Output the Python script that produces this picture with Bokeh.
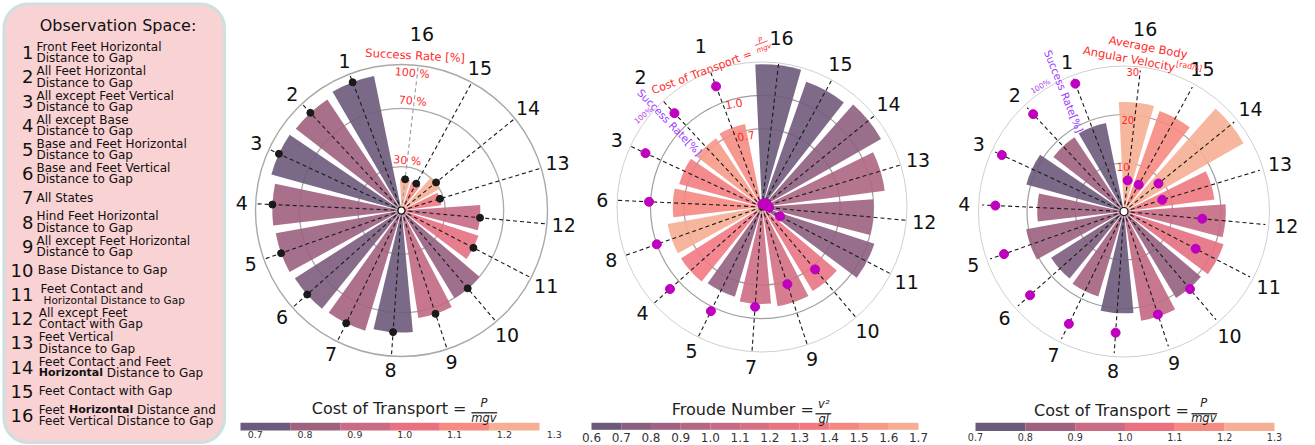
import numpy as np
from bokeh.plotting import figure
from bokeh.models import Range1d, LinearColorMapper, ColumnDataSource
from bokeh.core.properties import value
from bokeh.embed import file_html
from bokeh.resources import INLINE

# ---------------- data ----------------
obs_ids = list(range(1, 17))
obs_names = [
    "Front Feet Horizontal\nDistance to Gap",
    "All Feet Horizontal\nDistance to Gap",
    "All except Feet Vertical\nDistance to Gap",
    "All except Base\nDistance to Gap",
    "Base and Feet Horizontal\nDistance to Gap",
    "Base and Feet Vertical\nDistance to Gap",
    "All States",
    "Hind Feet Horizontal\nDistance to Gap",
    "All except Feet Horizontal\nDistance to Gap",
    "Base Distance to Gap",
    "Feet Contact and\nHorizontal Distance to Gap",
    "All except Feet\nContact with Gap",
    "Feet Vertical\nDistance to Gap",
    "Feet Contact and Feet\n**Horizontal** Distance to Gap",
    "Feet Contact with Gap",
    "Feet **Horizontal** Distance and\nFeet Vertical Distance to Gap",
]
# panels 1 and 3 (indexed by observation 1..16)
success_rate = [94, 91.5, 92.5, 88.5, 87.5, 86.5, 86, 83.5, 74.5, 70, 55.5, 54, 27.5, 30.5, 21, 21.5]
cost_of_transport = [0.75, 0.85, 0.75, 0.85, 0.84, 0.78, 0.86, 0.74, 0.93, 0.83, 1.03, 0.94, 1.08, 1.25, 1.15, 1.25]
ang_velocity = [18.6, 18.4, 20.9, 17.9, 20.5, 17.8, 18.3, 21.0, 22.8, 20.8, 21.6, 21.0, 18.8, 28.4, 22.0, 22.6]

# panel 2 (clockwise from the top)
order2 = [16, 15, 14, 13, 12, 11, 10, 9, 7, 5, 4, 8, 6, 3, 2, 1]
cot2 = [1.28, 1.19, 1.23, 1.11, 1.00, 1.06, 0.88, 0.90, 0.87, 0.84, 0.86, 0.86, 0.80, 0.77, 0.74, 0.76]
froude2 = [0.65, 0.67, 0.77, 0.92, 0.84, 0.76, 1.25, 1.12, 1.08, 0.80, 1.35, 1.65, 1.45, 1.38, 1.55, 1.48]
sr2 = [2, 3, 4, 3, 5, 14, 56.5, 56, 69, 80, 85, 77, 78, 88.5, 88.5, 89]

cot_ticks = [0.7, 0.8, 0.9, 1.0, 1.1, 1.2, 1.3]
froude_ticks = [0.6, 0.7, 0.8, 0.9, 1.0, 1.1, 1.2, 1.3, 1.4, 1.5, 1.6, 1.7]
cot_colors = ["#6b5a7b", "#a0617f", "#c96b84", "#ea7180", "#f58b81", "#f6ae94"]
froude_colors = ["#6b5a7b", "#8a5e7e", "#a06280", "#b46783", "#c66b84", "#d87084",
                 "#e87483", "#f27982", "#f58781", "#f69a88", "#f7ad93"]

sr_ticks1 = [30, 70, 100]
cot_rings2 = [0.7, 1.0, 1.3]
av_rings3 = [10, 20, 30]

# ---------------- figure ----------------
W, H = 1315, 445
p = figure(width=W, height=H, x_range=Range1d(0, W), y_range=Range1d(-H, 0),
           output_backend="svg", toolbar_location=None, min_border=0,
           x_axis_location=None, y_axis_location=None)
p.grid.visible = False
p.outline_line_color = None
FONT = value("DejaVu Sans")
RED = "#ff2a2a"
PURPLE = "#9d3cff"
MAG = "#bf00bf"


def T(x, y, s, size, color="black", angle=0.0, align="center", baseline="middle", style="normal"):
    p.text(x=[x], y=[-y], text=[s], angle=np.radians(angle), text_font=FONT,
           text_font_size=value(f"{size}px"), text_color=color, text_align=align,
           text_baseline=baseline, text_font_style=style)


def interp_palette(anchors, n=256):
    rgb = np.array([[int(h[i:i + 2], 16) for i in (1, 3, 5)] for h in anchors], float)
    t = np.linspace(0, 1, len(anchors))
    tt = np.linspace(0, 1, n)
    out = np.stack([np.interp(tt, t, rgb[:, k]) for k in range(3)], 1)
    return ["#%02x%02x%02x" % tuple(int(round(v)) for v in row) for row in out]


def centers(ticks):
    t = np.array(ticks)
    return (t[:-1] + t[1:]) / 2


cot_c = centers(cot_ticks)
fr_c = centers(froude_ticks)
cot_mapper = LinearColorMapper(palette=interp_palette(cot_colors), low=cot_c[0], high=cot_c[-1])
fr_mapper = LinearColorMapper(palette=interp_palette(froude_colors), low=fr_c[0], high=fr_c[-1])

STEP = 22.17
OFF = 6.6
BAR_W = np.radians(18.6)


def theta_cw(pos):
    return np.radians(OFF + STEP * np.asarray(pos, float))


def rings(cx, cy, radii, colors, widths):
    for r, c, w in zip(radii, colors, widths):
        p.circle(x=[cx], y=[-cy], radius=r, fill_color=None, line_color=c, line_width=w)


def bars(cx, cy, lengths_px, pos, cvals, mapper):
    a = np.pi / 2 - theta_cw(pos)
    n = len(pos)
    src = ColumnDataSource(dict(x=[cx] * n, y=[-cy] * n, r=lengths_px,
                                s=a - BAR_W / 2, e=a + BAR_W / 2, c=cvals))
    p.wedge(x="x", y="y", radius="r", start_angle="s", end_angle="e", source=src,
            fill_color={"field": "c", "transform": mapper}, fill_alpha=0.9, line_color=None)


def spokes(cx, cy, R, colors):
    th = theta_cw(np.arange(16))
    p.segment(x0=[cx] * 16, y0=[-cy] * 16, x1=cx + R * np.sin(th), y1=-cy + R * np.cos(th),
              line_color=colors, line_width=1.1, line_dash="4 3")


def dots(cx, cy, r_px, pos, color, size):
    th = theta_cw(pos)
    p.scatter(x=cx + np.asarray(r_px) * np.sin(th), y=-cy + np.asarray(r_px) * np.cos(th),
              size=size, fill_color=color, line_color=color)


def labels(cx, cy, labs, overrides):
    th = theta_cw(np.arange(16))
    r = np.array([160.0 + (3 if len(str(l)) > 1 else 0) for l in labs])
    for k, v in overrides.items():
        r[labs.index(k)] = v
    p.text(x=cx + r * np.sin(th), y=-cy + r * np.cos(th), text=[str(l) for l in labs],
           text_font=FONT, text_font_size=value("19px"), text_color="#111111",
           text_align="center", text_baseline="middle")


pos13 = [16 - k for k in obs_ids]          # position of observation k in panels 1 and 3
labs13 = [16 - q for q in range(16)]

# ---------------- panel 1 ----------------
C1 = (401.0, 210.0)
s1 = 146 / 100.0
rings(*C1, [v * s1 for v in sr_ticks1], ["#a9a9a9"] * 3, [1.3, 1.3, 1.4])
bars(*C1, [v * s1 for v in success_rate], pos13, cost_of_transport, cot_mapper)
spokes(*C1, 146, ["#9a9a9a"] + ["#1a1a1a"] * 15)
dots(*C1, [v * s1 for v in success_rate], pos13, "#1a1a1a", 7)
p.scatter(x=[C1[0]], y=[-C1[1]], size=7, fill_color="white", line_color="#111111", line_width=1.2)
labels(*C1, labs13, {16: 178})
T(414.7, 55, "Success Rate [%]", 11.5, RED, -3.1)
T(411.7, 72.7, "100 %", 11, RED, -5)
T(412.3, 100.7, "70 %", 11, RED, -5)
T(406.7, 160.3, "30 %", 11, RED, -5)

# ---------------- panel 2 ----------------
C2 = (761.5, 206.5)
s2 = 145 / 1.3
rings(*C2, [v * s2 for v in cot_rings2], ["#9e9e9e", "#9e9e9e", "#cfcfcf"], [1.2, 1.2, 1.0])
bars(*C2, [v * s2 for v in cot2], list(range(16)), froude2, fr_mapper)
spokes(*C2, 146, ["#1a1a1a"] * 16)
dots(*C2, [v * 1.3 / 100 * s2 for v in sr2], list(range(16)), MAG, 9)
labels(*C2, order2, {16: 170, 1: 172, 2: 178})
T(701.3, 71.7, "Cost of Transport =", 11, RED, 20.7)
T(760.0, 40.0, "P", 7, RED, 20.7, style="italic")
p.segment(x0=[754.5], y0=[-45.0], x1=[767.0], y1=[-40.3], line_color=RED, line_width=0.8)
T(763.5, 48.0, "mgv", 7, RED, 20.7, style="italic")
T(669.3, 121.7, "Success Rate[%]", 10.5, PURPLE, -46)
T(643.0, 115.0, "100%", 7.5, "#b23ee6", 40)
T(733.3, 103.3, "1.0", 11, RED, 10)
T(745.5, 135.5, "0.7", 11, RED, 10)

# ---------------- panel 3 ----------------
C3 = (1123.5, 211.0)
s3 = 145.5 / 30.0
rings(*C3, [v * s3 for v in av_rings3], ["#9e9e9e", "#9e9e9e", "#cfcfcf"], [1.2, 1.2, 1.0])
bars(*C3, [v * s3 for v in ang_velocity], pos13, cost_of_transport, cot_mapper)
spokes(*C3, 142, ["#1a1a1a"] * 16)
dots(*C3, [v * 30 / 100 * s3 for v in success_rate], pos13, MAG, 9)
p.scatter(x=[C3[0]], y=[-C3[1]], size=8, fill_color="white", line_color="#111111", line_width=1.2)
labels(*C3, labs13, {16: 184})
T(1147.7, 46.7, "Average Body", 11.5, RED, -10.8)
T(1128.7, 58.3, "Angular Velocity", 11.5, RED, -10.8)
T(1188.7, 65.7, "[rad/s]", 8, RED, -10.8)
T(1063.3, 90.7, "Success Rate[%]", 10.5, PURPLE, -68)
T(1040.0, 86.0, "100%", 7.5, "#b23ee6", 30)
T(1132.3, 71.7, "30", 10, RED)
T(1127.3, 119.3, "20", 10, RED)
T(1122.7, 166.7, "10", 10, RED)

# ---------------- colour bars ----------------
def colorbar(x0, x1, ytop, ybot, ticks, colors, label_dx, label_y, fsize):
    t = np.array(ticks, float)
    xs = x0 + (t - t[0]) / (t[-1] - t[0]) * (x1 - x0)
    p.quad(left=xs[:-1], right=xs[1:], top=[-ytop] * (len(xs) - 1), bottom=[-ybot] * (len(xs) - 1),
           fill_color=colors, line_color=None)
    p.text(x=xs + label_dx, y=[-label_y] * len(xs), text=[f"{v:.1f}" for v in ticks],
           text_font=FONT, text_font_size=value(f"{fsize}px"), text_color="#333333",
           text_align="center", text_baseline="middle")


def fraction(xc, y_num, y_bar, y_den, x0, x1, num, den, size=11.5):
    T(xc, y_num, num, size, "#222222", style="italic")
    p.segment(x0=[x0], y0=[-y_bar], x1=[x1], y1=[-y_bar], line_color="#222222", line_width=1.3)
    T(xc, y_den, den, size, "#222222", style="italic")


colorbar(240, 539, 422.3, 430, cot_ticks, cot_colors, 14.7, 434.3, 9.5)
T(466, 408, "Cost of Transport =", 16, "#222222", align="right")
fraction(483.5, 402.5, 412.3, 417.5, 471, 496.7, "P", "mgv")

colorbar(591, 918, 422.3, 429.3, froude_ticks, froude_colors, 0, 436.5, 12)
T(813.3, 409, "Froude Number =", 16, "#222222", align="right")
fraction(823.3, 403.5, 413.3, 418.5, 815, 830.7, "v²", "gl")

colorbar(975, 1274, 422.3, 430.5, cot_ticks, cot_colors, 0, 436.0, 9.6)
T(1188.3, 409.5, "Cost of Transport =", 16, "#222222", align="right")
fraction(1203.3, 402.0, 413.3, 417.8, 1191, 1216.7, "P", "mgv")

# ---------------- legend panel ----------------
def rounded_rect(x0, x1, y0, y1, r, n=12):
    xs, ys = [], []
    for (cx, cy, a0) in [(x1 - r, y0 + r, 0), (x0 + r, y0 + r, 90), (x0 + r, y1 - r, 180), (x1 - r, y1 - r, 270)]:
        a = np.radians(np.linspace(a0, a0 + 90, n))
        xs += list(cx + r * np.cos(a))
        ys += list(-(cy - r * np.sin(a)))
    return xs, ys


bx, by = rounded_rect(3.5, 224, 3.5, 442, 24)
p.patch(bx, by, fill_color="#f9d2d4", line_color="#cde0e0", line_width=3)
T(117.5, 25, "Observation Space:", 16, "#111111")

CW = {' ': 0.318, 'F': 0.575, 'e': 0.615, 't': 0.392}
CWB = {'H': 0.837, 'o': 0.687, 'r': 0.493, 'i': 0.343, 'z': 0.580, 'n': 0.712,
       't': 0.478, 'a': 0.675, 'l': 0.343, ' ': 0.348}


def seg_width(s, size, bold):
    tab = CWB if bold else CW
    return sum(tab.get(ch, 0.6) for ch in s) * size


for i, name in enumerate(obs_names):
    yc = 52.3 + 24.18 * i
    T(33, yc, str(obs_ids[i]), 18, "#111111", align="right")
    lines = name.split("\n")
    ys = [yc] if len(lines) == 1 else [yc - 5.6, yc + 5.6]
    x_start = 36.0 if i < 9 else (37.3 if i == 9 else (40.0 if i == 10 else 38.3))
    for j, (line, yy) in enumerate(zip(lines, ys)):
        size = 12
        xx = x_start
        if i == 10 and j == 1:
            size, xx = 10.5, 43.0
        parts = line.split("**")
        for k, part in enumerate(parts):
            if part == "":
                continue
            bold = (k % 2 == 1)
            fs = 11 if bold else size
            lead = len(part) - len(part.lstrip(" "))
            xx += seg_width(" " * lead, fs, bold)
            txt = part.strip(" ")
            T(xx, yy, txt, fs, "#111111", align="left", style="bold" if bold else "normal")
            xx += seg_width(txt, fs, bold)
            trail = len(part) - len(part.rstrip(" "))
            xx += seg_width(" " * trail, fs, bold)

open("out.html", "w").write(file_html(p, INLINE))
